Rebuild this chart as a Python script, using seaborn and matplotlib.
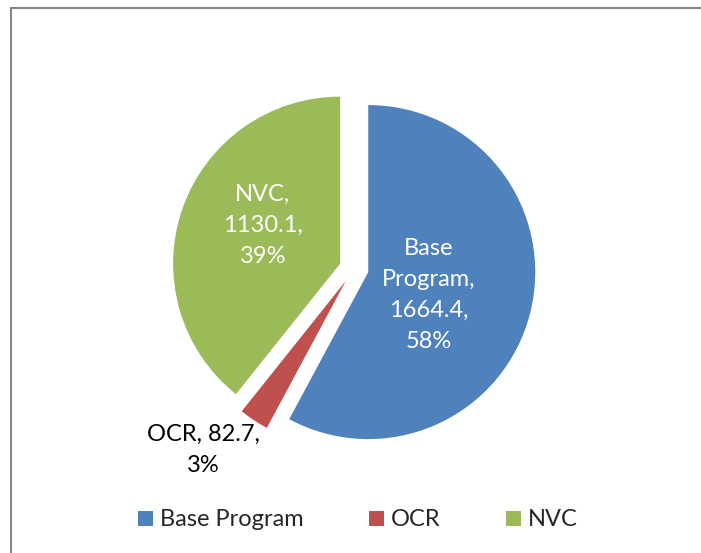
import numpy as np
import seaborn as sns
import matplotlib.pyplot as plt
from matplotlib.patches import Rectangle

# data
categories = ['Base Program', 'OCR', 'NVC']
values = [1664.4, 82.7, 1130.1]
percents = ['58%', '3%', '39%']
colors = ['#4F81BD', '#C0504D', '#9BBB59']

# label placement, as fraction of radius from each wedge centre
label_dist = [0.385, 1.325, 0.517]
label_shift = [-6.6, -6.7, -7.1]   # degrees added to the wedge bisector
label_color = ['white', 'black', 'white']
label_text = ['Base\nProgram,\n1664.4,\n58%', 'OCR, 82.7,\n3%', 'NVC,\n1130.1,\n39%']

sns.set_theme(style="white")
plt.rcParams['font.family'] = ['Lato', 'DejaVu Sans']

W, H = 701, 553
fig = plt.figure(figsize=(W / 100, H / 100), dpi=100)
ax = fig.add_axes([0, 0, 1, 1])

wedges, _ = ax.pie(
    values, colors=colors, startangle=90, counterclock=False,
    explode=[0.088] * 3, wedgeprops=dict(linewidth=0),
)

for w, txt, d, sh, c in zip(wedges, label_text, label_dist, label_shift, label_color):
    mid = np.deg2rad((w.theta1 + w.theta2) / 2 + sh)
    cx, cy = w.center
    ax.text(cx + d * w.r * np.cos(mid), cy + d * w.r * np.sin(mid), txt,
            ha='center', va='center', color=c, fontsize=17, linespacing=1.58)

# pixel mapping: centre (354, 268.5), radius 167 px
r_px, cx_px, cy_px = 167, 354, 268.5
ax.set_xlim(-cx_px / r_px, (W - cx_px) / r_px)
ax.set_ylim(-(H - cy_px) / r_px, cy_px / r_px)
ax.set_aspect('auto')
ax.axis('off')

ax.legend(wedges, categories, loc='center', bbox_to_anchor=(358 / W, 1 - 520 / H),
          bbox_transform=fig.transFigure, ncol=3, frameon=False, fontsize=17,
          handlelength=0.64, handleheight=0.6, handletextpad=0.3, columnspacing=2.75)

fig.patches.append(Rectangle((10.5 / W, -0.1), 2, 1.1 - 8.5 / H, transform=fig.transFigure,
                             fill=False, edgecolor='#868686', linewidth=1.5))

fig.savefig('out.png', dpi=100)
